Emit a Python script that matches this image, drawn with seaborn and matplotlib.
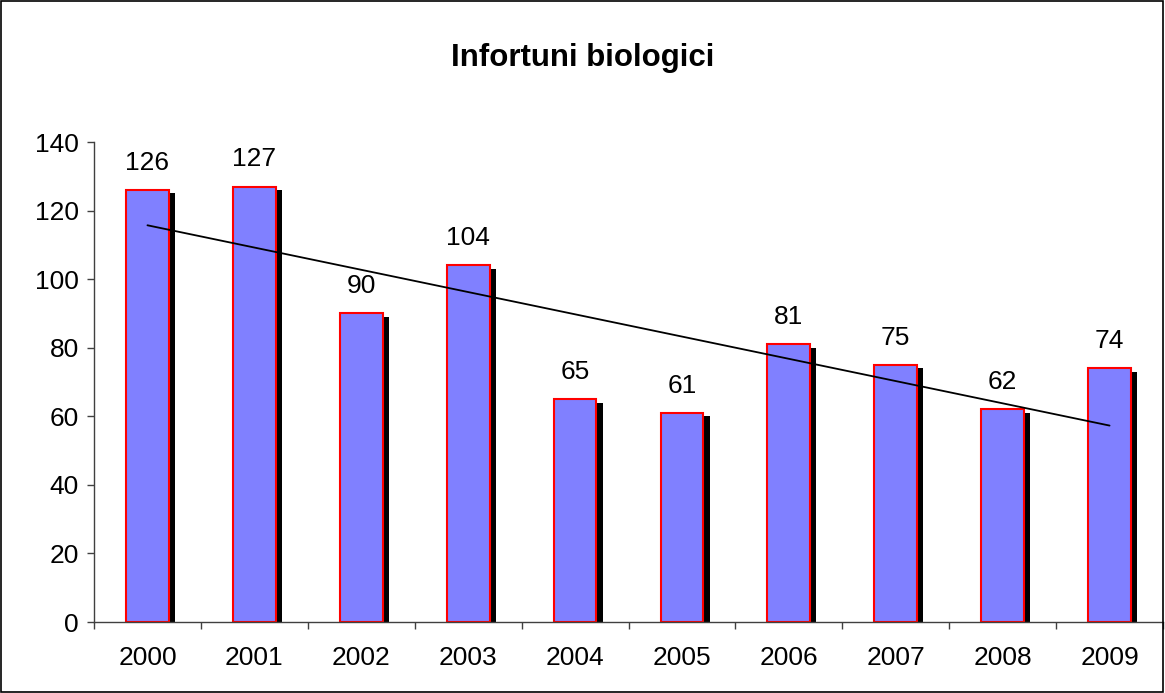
import numpy as np
import pandas as pd
import matplotlib
matplotlib.use("Agg")
import matplotlib.pyplot as plt
import matplotlib.patheffects as pe
from matplotlib.patches import Rectangle
import seaborn as sns

years = ["2000", "2001", "2002", "2003", "2004", "2005", "2006", "2007", "2008", "2009"]
values = [126, 127, 90, 104, 65, 61, 81, 75, 62, 74]
title = "Infortuni biologici"
yticks = [0, 20, 40, 60, 80, 100, 120, 140]

sns.set_theme(style="white")
plt.rcParams['font.family'] = ['Liberation Sans', 'DejaVu Sans']
plt.rcParams['text.color'] = 'black'
plt.rcParams['xtick.color'] = 'black'
plt.rcParams['ytick.color'] = 'black'

df = pd.DataFrame({"year": years, "value": values})

fig = plt.figure(figsize=(11.65, 6.93), dpi=100)
ax = fig.add_axes([94/1165, 71/693, 1069/1165, 480/693])

sns.barplot(data=df, x="year", y="value", ax=ax, color="#8080FF",
            saturation=1, width=0.4, edgecolor="#FF0000", linewidth=1.5)
for p in ax.patches:
    p.set_path_effects([pe.SimplePatchShadow(offset=(4.5, -2.5), shadow_rgbFace="black", alpha=1.0),
                        pe.Normal()])

for i, v in enumerate(values):
    ax.annotate(str(v), (i, v), xytext=(0, 11), textcoords="offset points",
                ha="center", va="bottom", fontsize=19, color="black")

# linear trend line
xs = np.arange(len(values))
coef = np.polyfit(xs, values, 1)
ax.plot(xs, np.polyval(coef, xs), color="black", linewidth=1.3)

ax.set_xlim(-0.5, len(values) - 0.5)
ax.set_ylim(0, 140)
ax.set_yticks(yticks)
ax.set_yticklabels([str(t) for t in yticks], fontsize=19)
ax.set_xticks(xs)
ax.set_xticklabels(years, fontsize=19)
ax.set_xticks(np.arange(-0.5, len(values)), minor=True)
ax.tick_params(axis="x", which="major", length=0, pad=17)
ax.tick_params(axis="x", which="minor", length=5, width=1, color="#404040", direction="out", bottom=True)
ax.tick_params(axis="y", which="major", length=5, width=1, color="#404040", direction="out", left=True, pad=6)
ax.set_xlabel("")
ax.set_ylabel("")
for s in ["top", "right"]:
    ax.spines[s].set_visible(False)
for s in ["left", "bottom"]:
    ax.spines[s].set_color("#404040")
    ax.spines[s].set_linewidth(1)
ax.grid(False)

fig.text(0.5, 1 - 58/693, title, ha="center", va="center", fontsize=22.5, fontweight="bold")
fig.patches.append(Rectangle((0.0005, 0.001), 0.998, 0.997, transform=fig.transFigure,
                             fill=False, edgecolor="black", linewidth=1.2))

fig.savefig("out.png", dpi=100)
